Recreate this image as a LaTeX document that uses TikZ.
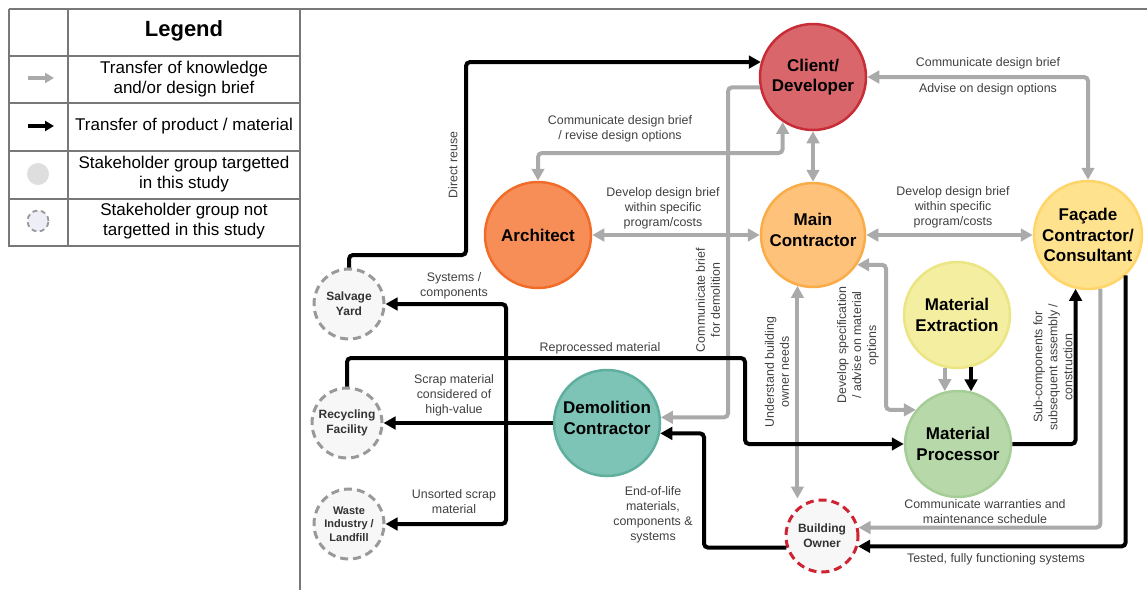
\documentclass[tikz,border=0pt]{standalone}
\usepackage{fontspec}
\setmainfont{Liberation Sans}
\usetikzlibrary{arrows.meta}
\definecolor{gryline}{RGB}{170,170,170}
\definecolor{frame}{RGB}{120,120,120}
\definecolor{lbl}{RGB}{64,64,64}
\definecolor{clientF}{RGB}{217,102,106}\definecolor{clientD}{RGB}{200,45,55}
\definecolor{archF}{RGB}{247,142,88}\definecolor{archD}{RGB}{240,108,40}
\definecolor{mainF}{RGB}{255,194,122}\definecolor{mainD}{RGB}{250,172,72}
\definecolor{facF}{RGB}{255,226,142}\definecolor{facD}{RGB}{255,212,105}
\definecolor{extF}{RGB}{243,238,160}\definecolor{extD}{RGB}{236,229,132}
\definecolor{procF}{RGB}{183,216,168}\definecolor{procD}{RGB}{165,205,150}
\definecolor{demoF}{RGB}{125,195,182}\definecolor{demoD}{RGB}{95,175,158}
\definecolor{dashF}{RGB}{247,247,247}\definecolor{dashD}{RGB}{153,153,153}
\definecolor{ownerD}{RGB}{205,35,50}
\definecolor{legdash}{RGB}{238,238,248}
\tikzset{
  stake/.style={circle,inner sep=0pt,line width=2.5pt,align=center,font=\fontsize{17}{20.5}\selectfont\bfseries},
  raise/.style={text depth=10pt},
  minor/.style={circle,inner sep=0pt,line width=3pt,dash pattern=on 8pt off 5pt,fill=dashF,draw=dashD,align=center,text=black!80,font=\fontsize{12}{15}\selectfont\bfseries,minimum size=70pt},
  gry/.style={draw=gryline,line width=4pt,rounded corners=4pt},
  blk/.style={draw=black,line width=4pt,rounded corners=4pt},
  tip/.style={-{Triangle[length=12pt,width=12.5pt]}},
  tips/.style={{Triangle[length=12pt,width=12.5pt]}-{Triangle[length=12pt,width=12.5pt]}},
  elabel/.style={text=lbl,align=center,font=\fontsize{12.4}{15}\selectfont,inner sep=0pt},
  legtext/.style={align=center,font=\fontsize{17}{20}\selectfont,inner sep=0pt},
  frm/.style={draw=frame,line width=1.3pt}
}
\begin{document}
\begin{tikzpicture}[x=1pt,y=-1pt]
\useasboundingbox (0,0) rectangle (1147,590);
% frame lines
\draw[frm] (9,9) -- (1147,9);
\draw[frm] (300,9) -- (300,590);
\draw[frm] (9,9) -- (9,246) -- (299,246);
\draw[frm] (68,9) -- (68,246);
\foreach \yy in {56,103,151,199} \draw[frm] (9,\yy) -- (299,\yy);
% legend
\node[font=\fontsize{22}{24}\selectfont\bfseries,inner sep=0pt] (legt) at (184,31) {Legend};
\coordinate (lga) at (28,78); \coordinate (lgb) at (54,78);
\draw[draw=gryline,line width=3.5pt,-{Triangle[length=9pt,width=10pt]}] (lga) -- (lgb);
\coordinate (lba) at (28,126); \coordinate (lbb) at (54,126);
\draw[draw=black,line width=3.5pt,-{Triangle[length=9pt,width=10pt]}] (lba) -- (lbb);
\node[circle,fill=black!13,minimum size=22pt,inner sep=0pt] (lgc) at (38,174) {};
\node[circle,fill=legdash,draw=dashD,line width=1.8pt,dash pattern=on 5pt off 3.5pt,minimum size=21pt,inner sep=0pt] (lgd) at (38,221) {};
\node[legtext] (lt1) at (184,79) {Transfer of knowledge\\and/or design brief};
\node[legtext] (lt2) at (184,126) {Transfer of product / material};
\node[legtext] (lt3) at (184,174) {Stakeholder group targetted\\in this study};
\node[legtext] (lt4) at (184,221) {Stakeholder group not\\targetted in this study};
% stakeholders
\node[stake,fill=clientF,draw=clientD,minimum size=106pt] (client) at (813,77) {Client/\\Developer};
\node[stake,fill=archF,draw=archD,minimum size=106pt] (arch) at (538,235) {Architect};
\node[stake,raise,fill=mainF,draw=mainD,minimum size=104pt] (main) at (813,235) {Main\\Contractor};
\node[stake,fill=facF,draw=facD,minimum size=108pt] (fac) at (1088,235) {Façade\\Contractor/\\Consultant};
\node[stake,fill=extF,draw=extD,minimum size=106pt] (ext) at (957,315) {Material\\Extraction};
\node[stake,fill=procF,draw=procD,minimum size=106pt] (proc) at (958,444) {Material\\Processor};
\node[stake,raise,fill=demoF,draw=demoD,minimum size=106pt] (demo) at (607,423) {Demolition\\Contractor};
\node[minor] (salv) at (349,304) {Salvage\\Yard};
\node[minor] (recy) at (347,423) {Recycling\\Facility};
\node[minor,font=\fontsize{11}{13.5}\selectfont\bfseries] (wast) at (349,524) {Waste\\Industry /\\Landfill};
\node[minor,draw=ownerD,minimum size=72pt] (owner) at (822,536) {Building\\Owner};
% knowledge connectors (grey)
\draw[gry,tips] (client.236) |- (538,153) -- (arch.north);
\draw[gry,tips] (client.south) -- (main.north);
\draw[gry,tips] (client.east) -| (fac.north);
\draw[gry,tips] (arch.east) -- (main.west);
\draw[gry,tips] (main.east) -- (fac.west);
\draw[gry,tip] (client.191) -| (728,300) |- (demo.6.5);
\draw[gry,tips] (main.253) -- (main.253 |- owner.north);
\draw[gry,tips] (main.-34) -| (886,350) |- (proc.141);
\draw[gry,tip] (ext.257) -- (ext.257 |- proc.103);
\draw[gry,tip] (fac.283) |- (owner.13);
% material connectors (black)
\draw[blk,tip] (salv.north) -- (salv.north |- 0,255) -- (466,255) |- (client.164);
\draw[blk,tip] (ext.285) -- (ext.285 |- proc.76);
\draw[blk,tip] (recy.north) -- (recy.north |- 0,358) -| (745,400) |- (proc.west);
\draw[blk,tip] (proc.east) -| (fac.257);
\draw[blk,tip] (fac.-47) |- (owner.-16);
\draw[blk,tip] (owner.198) -| (704,480) |- (demo.-11);
\draw[blk,tip] (demo.west) -- (recy.east);
\coordinate (split) at (506,423);
\draw[blk,tip] (split) |- (salv.east);
\draw[blk,tip] (split) |- (wast.east);
% labels
\node[elabel,rotate=90] (l1) at (453,165) {Direct reuse};
\node[elabel] (l2) at (620,129) {Communicate design brief\\/ revise design options};
\node[elabel] (l3) at (988,63) {Communicate design brief};
\node[elabel] (l4) at (988,89) {Advise on design options};
\node[elabel] (l5) at (663,208) {Develop design brief\\within specific\\program/costs};
\node[elabel] (l6) at (953,207) {Develop design brief\\within specific\\program/costs};
\node[elabel,rotate=90] (l7) at (708,300) {Communicate brief\\for demolition};
\node[elabel,rotate=90] (l8) at (777,372) {Understand building\\owner needs};
\node[elabel,rotate=90] (l9) at (858,345) {Develop specification\\/ advise on material\\options};
\node[elabel,rotate=90] (l10) at (1053,367) {Sub-components for\\subsequent assembly /\\construction};
\node[elabel] (l11) at (600,348) {Reprocessed material};
\node[elabel] (l12) at (454,286) {Systems /\\components};
\node[elabel] (l13) at (454,395) {Scrap material\\considered of\\high-value};
\node[elabel] (l14) at (454,502) {Unsorted scrap\\material};
\node[elabel] (l15) at (653,515) {End-of-life\\materials,\\components \&\\systems};
\node[elabel] (l16) at (985,512) {Communicate warranties and\\maintenance schedule};
\node[elabel] (l17) at (996,559) {Tested, fully functioning systems};
\end{tikzpicture}
\end{document}
